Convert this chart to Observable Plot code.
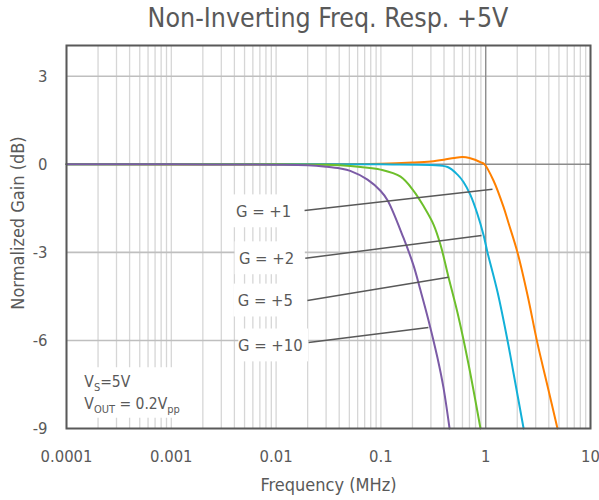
<!DOCTYPE html>
<html><head><meta charset="utf-8">
<script src="https://cdn.jsdelivr.net/npm/d3@7"></script>
<script src="https://cdn.jsdelivr.net/npm/@observablehq/plot@0.6"></script>
<style>
body{margin:0;background:#fff;}
#wrap{position:relative;width:599px;height:500px;font-family:"DejaVu Sans Condensed","DejaVu Sans",sans-serif;}
#title{position:absolute;left:66px;top:3px;width:524px;text-align:center;font-size:26.5px;line-height:30px;color:#595959;}
</style></head>
<body>
<div id="wrap"><div id="title">Non-Inverting Freq. Resp. +5V</div></div>
<script>
// ---- data ----
const xTicks = [0.0001, 0.001, 0.01, 0.1, 1, 10];
const yTicks = [-9, -6, -3, 0, 3];

const g1Freq = [0.0001, 0.01, 0.1, 0.2, 0.3, 0.4, 0.5, 0.6, 0.7, 0.8, 0.9, 0.975, 1.186, 1.479, 1.651, 2.01, 2.505, 3.12, 3.89, 4.84];
const g1Gain = [0, 0, 0.02, 0.06, 0.1, 0.16, 0.22, 0.25, 0.22, 0.15, 0.07, 0, -0.55, -1.45, -2.0, -3.0, -4.45, -6.1, -7.55, -9];

const g2Freq = [0.0001, 0.01, 0.1, 0.3, 0.433, 0.538, 0.614, 0.716, 0.835, 0.952, 1.04, 1.297, 1.615, 1.84, 2.30];
const g2Gain = [0, 0, 0, -0.02, -0.09, -0.35, -0.6, -1.05, -1.7, -2.4, -3.0, -4.35, -6.0, -7.1, -9];

const g5Freq = [0.0001, 0.01, 0.03, 0.041, 0.064, 0.099, 0.154, 0.205, 0.255, 0.318, 0.371, 0.442, 0.55, 0.685, 0.892];
const g5Gain = [0, 0, -0.01, -0.03, -0.09, -0.18, -0.42, -0.9, -1.42, -2.05, -2.75, -3.85, -5.2, -6.8, -9];

const g10Freq = [0.0001, 0.001, 0.01, 0.02, 0.03, 0.041, 0.051, 0.0745, 0.099, 0.116, 0.164, 0.205, 0.239, 0.284, 0.347, 0.395, 0.452];
const g10Gain = [0, 0, -0.01, -0.03, -0.08, -0.14, -0.22, -0.52, -0.9, -1.23, -2.5, -3.45, -4.3, -5.3, -6.6, -7.6, -9];

const seriesNames = ["G = +1", "G = +2", "G = +5", "G = +10"];
const seriesColors = ["#ff8000", "#12b0d8", "#6dbf2b", "#7b5ba6"];

// annotation labels and leader lines
const labelFreq = [0.0076, 0.0081, 0.0079, 0.0088];
const labelGain = [-1.6, -3.2, -4.64, -6.17];
const leaderFromFreq = [0.0187, 0.019, 0.0199, 0.0204];
const leaderFromGain = [-1.57, -3.2, -4.64, -6.07];
const leaderToFreq = [1.161, 0.912, 0.442, 0.284];
const leaderToGain = [-0.85, -2.42, -3.85, -5.56];

const noteLines = ["VS=5V", "VOUT = 0.2Vpp"];
const noteFreq = [0.000148, 0.000148];
const noteGain = [-7.43, -8.15];

// ---- build ----
const curves = [[g1Freq, g1Gain], [g2Freq, g2Gain], [g5Freq, g5Gain], [g10Freq, g10Gain]]
  .flatMap(([f, g], i) => f.map((v, j) => ({series: seriesNames[i], f: v, g: g[j]})));

const minor = [];
for (let e = -4; e <= 0; e++) for (let k = 1; k <= 9; k++) minor.push(k * Math.pow(10, e));
minor.push(10);

const labels = seriesNames.map((s, i) => ({s, f: labelFreq[i], g: labelGain[i]}));
const leaders = seriesNames.map((s, i) => ({x1: leaderFromFreq[i], y1: leaderFromGain[i], x2: leaderToFreq[i], y2: leaderToGain[i]}));
const boxes = labels.map((d, i) => ({x1: d.f / Math.pow(10, 0.30), x2: leaderFromFreq[i], y1: d.g - 0.56, y2: d.g + 0.56}));
boxes.push({x1: noteFreq[0] / Math.pow(10, 0.03), x2: noteFreq[0] * Math.pow(10, 0.98), y1: noteGain[1] - 0.5, y2: noteGain[0] + 0.5});
const notes = noteLines.map((t, i) => ({t, f: noteFreq[i], g: noteGain[i]}));

const gray = "#595959";
const chart = Plot.plot({
  width: 599, height: 500,
  marginLeft: 66, marginRight: 9, marginTop: 45, marginBottom: 72,
  style: {fontFamily: '"DejaVu Sans Condensed","DejaVu Sans",sans-serif', fontSize: "16px", color: gray, background: "white"},
  x: {type: "log", domain: [0.0001, 10]},
  y: {domain: [-9, 4.05]},
  color: {domain: seriesNames, range: seriesColors},
  marks: [
    Plot.ruleX(minor, {stroke: "#d6d6d6", strokeWidth: 1.3}),
    Plot.ruleY([3, -3, -6], {stroke: "#bfbfbf", strokeWidth: 1.6}),
    Plot.ruleX([1], {stroke: "#8c8c8c", strokeWidth: 1.3}),
    Plot.ruleY([0], {stroke: "#8c8c8c", strokeWidth: 1.5}),
    Plot.rect(boxes, {x1: "x1", x2: "x2", y1: "y1", y2: "y2", fill: "white"}),
    Plot.line(curves, {x: "f", y: "g", z: "series", stroke: "series", strokeWidth: 2, curve: "catmull-rom"}),
    Plot.link(leaders, {x1: "x1", y1: "y1", x2: "x2", y2: "y2", stroke: gray, strokeWidth: 1.5}),
    Plot.text(labels, {x: "f", y: "g", text: "s", fill: gray, fontSize: 16.5}),
    Plot.text(notes, {x: "f", y: "g", text: "t", fill: gray, fontSize: 15.5, textAnchor: "start"}),
    Plot.frame({stroke: gray, strokeWidth: 2}),
    Plot.axisX({ticks: xTicks, tickFormat: d => String(d), tickSize: 0, tickPadding: 22, fill: gray, fontSize: 16.5, label: null}),
    Plot.axisY({ticks: yTicks, tickFormat: d => String(d), tickSize: 0, tickPadding: 19, fill: gray, fontSize: 16.5, label: null}),
    Plot.text(["Frequency (MHz)"], {frameAnchor: "bottom", lineAnchor: "middle", dy: 57, fill: gray, fontSize: 18}),
    Plot.text(["Normalized Gain (dB)"], {frameAnchor: "left", textAnchor: "middle", lineAnchor: "middle", dx: -48, dy: -14, rotate: -90, fill: gray, fontSize: 18})
  ]
});

// subscripts for the note lines
function rich(textEl, parts) {
  while (textEl.firstChild) textEl.removeChild(textEl.firstChild);
  let shifted = false;
  for (const [str, sub] of parts) {
    const ts = document.createElementNS("http://www.w3.org/2000/svg", "tspan");
    ts.textContent = str;
    if (sub && !shifted) { ts.setAttribute("dy", "4"); ts.setAttribute("font-size", "11"); shifted = true; }
    else if (sub) { ts.setAttribute("font-size", "11"); }
    else if (!sub && shifted) { ts.setAttribute("dy", "-4"); shifted = false; }
    textEl.appendChild(ts);
  }
}
chart.querySelectorAll("text").forEach(el => {
  if (el.textContent === "VS=5V") rich(el, [["V", false], ["S", true], ["=5V", false]]);
  else if (el.textContent === "VOUT = 0.2Vpp") rich(el, [["V", false], ["OUT", true], [" = 0.2V", false], ["pp", true]]);
});

document.getElementById("wrap").prepend(chart);
</script>
</body></html>
